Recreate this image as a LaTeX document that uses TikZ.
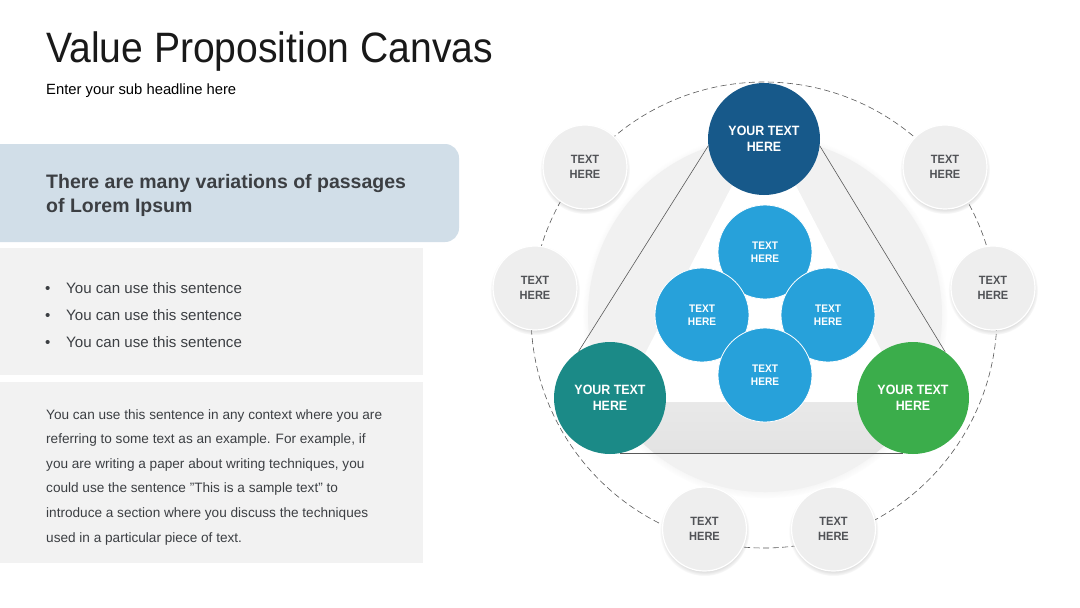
\documentclass[tikz,border=0pt]{standalone}
\usepackage{fontspec}
\setmainfont{Liberation Sans}
\newfontfamily\narrowfont{Liberation Sans}[FakeStretch=0.92]
\usetikzlibrary{shadows}
\definecolor{darkblue}{HTML}{17598A}
\definecolor{teal1}{HTML}{1B8A87}
\definecolor{green1}{HTML}{3BAD4B}
\definecolor{lblue}{HTML}{27A1DA}
\definecolor{boxblue}{HTML}{D1DEE8}
\definecolor{boxgray}{HTML}{F2F2F2}
\definecolor{txt}{HTML}{3C3F43}
\definecolor{outgray}{HTML}{EEEEEE}
\definecolor{discgray}{HTML}{F1F1F1}
\definecolor{bandgray}{HTML}{E3E3E3}
\tikzset{
  outc/.style={circle, minimum size=84pt, inner sep=0pt, fill=outgray, draw=white, line width=1.2pt,
    circular drop shadow={shadow xshift=0pt, shadow yshift=-2pt, shadow scale=1.07, opacity=0.35},
    font=\narrowfont\fontsize{12}{15}\selectfont\bfseries, text=txt!90, align=center},
  bigc/.style={circle, minimum size=112pt, inner sep=0pt, text=white, align=center,
    font=\narrowfont\fontsize{13.5}{16}\selectfont\bfseries},
  smallc/.style={circle, minimum size=94pt, inner sep=0pt, fill=lblue, draw=white, line width=0.8pt, text=white, align=center,
    font=\narrowfont\fontsize{11}{13}\selectfont\bfseries},
  body/.style={anchor=base west, inner sep=0pt, text=txt, font=\fontsize{13.6}{16}\selectfont},
  bul/.style={anchor=base west, inner sep=0pt, text=txt, font=\fontsize{15.1}{17}\selectfont},
  tri/.style={draw=black!65, line width=0.6pt}
}
\begin{document}
\begin{tikzpicture}[x=1pt,y=-1pt]
\useasboundingbox (0,0) rectangle (1080,608);
\fill[white] (0,0) rectangle (1080,608);

% ---- left panel ----
\node[anchor=base west, inner sep=0pt, text=black!90, font=\narrowfont\fontsize{42.5}{48}\selectfont] (title) at (46,62) {Value Proposition Canvas};
\node[anchor=base west, inner sep=0pt, text=black, font=\fontsize{14.8}{18}\selectfont] (sub) at (46,94) {Enter your sub headline here};

\fill[boxblue, rounded corners=14pt] (-20,144) rectangle (459,242);
\node[anchor=base west, inner sep=0pt, text=txt, font=\fontsize{19.5}{24}\selectfont\bfseries] (h1) at (46,188) {There are many variations of passages};
\node[anchor=base west, inner sep=0pt, text=txt, font=\fontsize{19.5}{24}\selectfont\bfseries] (h2) at (46,212) {of Lorem Ipsum};

\fill[boxgray] (0,248) rectangle (423,375);
\foreach \yy/\nm in {293/b1,320/b2,347/b3}{
  \node[bul] (\nm d) at (45,\yy) {•};
  \node[bul] (\nm) at (66,\yy) {You can use this sentence};
}

\fill[boxgray] (0,382) rectangle (423,563);
\node[body] (p1) at (46,419) {You can use this sentence in any context where you are};
\node[body] (p2) at (46,443.6) {referring to some text as an example. For example, if};
\node[body] (p3) at (46,468.2) {you are writing a paper about writing techniques, you};
\node[body] (p4) at (46,492.8) {could use the sentence "This is a sample text" to};
\node[body] (p5) at (46,517.4) {introduce a section where you discuss the techniques};
\node[body] (p6) at (46,542) {used in a particular piece of text.};

% ---- right diagram ----
\draw[black!65, line width=0.6pt, dash pattern=on 6pt off 3.5pt] (764,315) circle (233);

\fill[discgray, circular drop shadow={shadow xshift=0pt, shadow yshift=-1pt, shadow scale=1.03, opacity=0.25}] (765,315) circle (177);
\fill[white, rounded corners=6pt] (764,124) -- (908,402) -- (620,402) -- cycle;
\begin{scope}
  \clip (765,315) circle (177);
  \shade[top color=bandgray!80, bottom color=bandgray] (560,402) rectangle (970,453);
\end{scope}

\node[smallc] (s1) at (765,252) {TEXT\\HERE};
\node[smallc] (s2) at (702,315) {TEXT\\HERE};
\node[smallc] (s3) at (828,315) {TEXT\\HERE};
\node[smallc] (s4) at (765,375) {TEXT\\HERE};

\node[bigc, fill=darkblue] (top) at (764,139) {YOUR TEXT\\HERE};
\node[bigc, fill=teal1] (left) at (610,398) {YOUR TEXT\\HERE};
\node[bigc, fill=green1] (right) at (913,398) {YOUR TEXT\\HERE};

\draw[tri] (top.187) -- (left.124.5);
\draw[tri] (top.-7) -- (right.55.5);
\draw[tri] (left.-80) -- (right.-100);

\node[outc] (o1) at (585,167) {TEXT\\HERE};
\node[outc] (o2) at (535,288) {TEXT\\HERE};
\node[outc] (o3) at (945,167) {TEXT\\HERE};
\node[outc] (o4) at (993,288) {TEXT\\HERE};
\node[outc] (o5) at (704.5,529) {TEXT\\HERE};
\node[outc] (o6) at (833.5,529) {TEXT\\HERE};
\end{tikzpicture}
\end{document}
